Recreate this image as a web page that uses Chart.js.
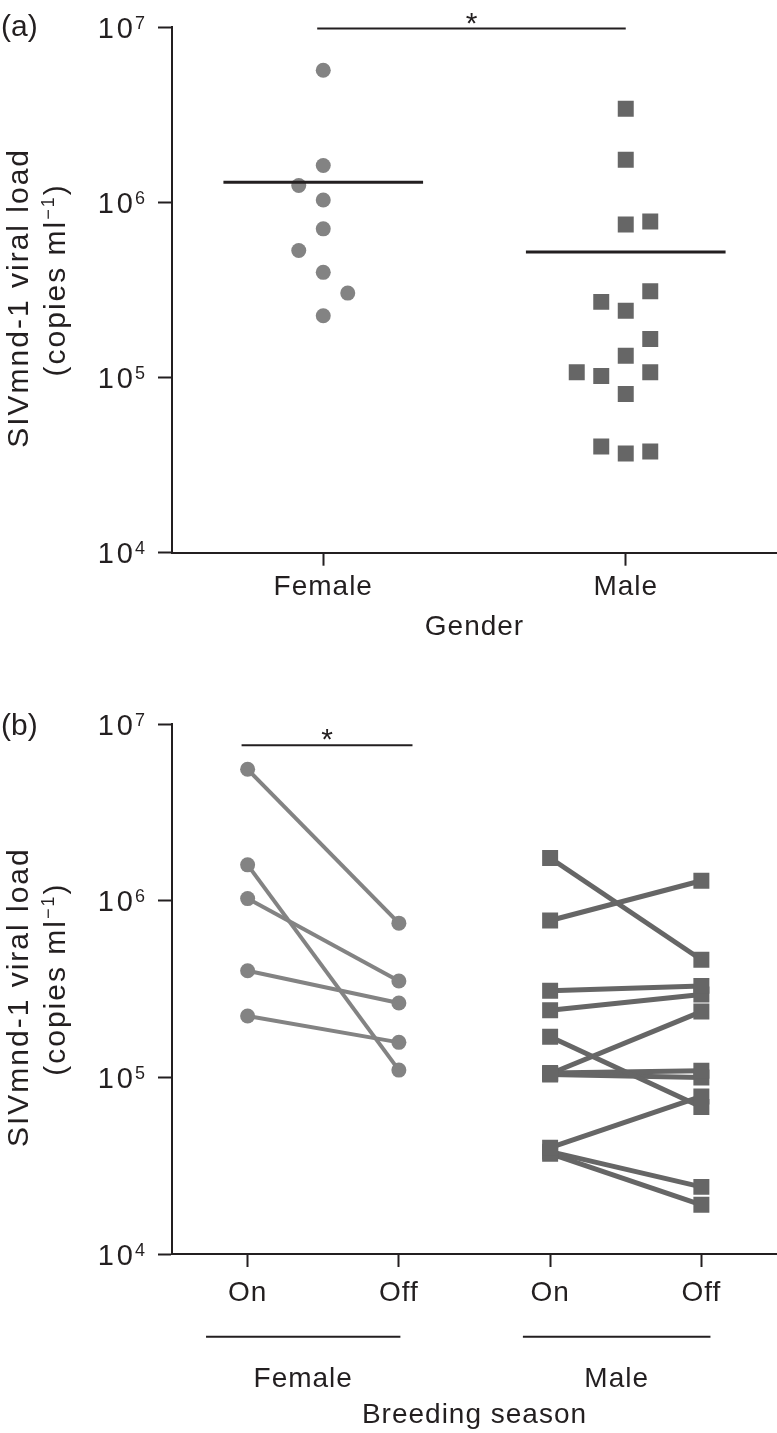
<!DOCTYPE html>
<html>
<head>
<meta charset="utf-8">
<script src="https://cdn.jsdelivr.net/npm/chart.js@4.4.1/dist/chart.umd.min.js"></script>
<style>
  html, body { margin: 0; padding: 0; background: #fff; }
  #wrap { position: relative; width: 777px; height: 1433px; }
  canvas { position: absolute; left: 0; }
</style>
</head>
<body>
<div id="wrap">
  <canvas id="chartA" width="777" height="660" style="top:0"></canvas>
  <canvas id="chartB" width="777" height="773" style="top:660px"></canvas>
</div>
<script>
// axis ticks / labels
const yTicks = [1e4, 1e5, 1e6, 1e7];
const genderLabels = ['Female', 'Male'];
const seasonLabels = ['On', 'Off', 'On', 'Off'];
const groupLabels = ['Female', 'Male'];

// (a) viral load by gender, with horizontal jitter slot of each point
const femaleLoad = [5.66e6, 1.62e6, 1.245e6, 1.03e6, 7.05e5, 5.3e5, 3.98e5, 3.03e5, 2.25e5];
const femaleSlot = [0, 0, -1, 0, 0, -1, 0, 1, 0];
const maleLoad = [3.42e6, 1.75e6, 7.46e5, 7.76e5, 3.1e5, 2.7e5, 2.4e5, 1.66e5, 1.33e5,
                  1.07e5, 1.02e5, 1.07e5, 8.04e4, 4.04e4, 3.68e4, 3.78e4];
const maleSlot = [0, 0, 0, 1, 1, -1, 0, 1, 0, -2, -1, 1, 0, -1, 0, 1];
const genderMeans = [1.3e6, 5.2e5];
const sigBarA = [0.98, 2.0];
const sigLevelA = 9.8e6;

// (b) paired on / off breeding season
const femaleOn  = [5.56e6, 1.6e6, 1.03e6, 4.02e5, 2.23e5];
const femaleOff = [7.48e5, 1.1e5, 3.52e5, 2.64e5, 1.58e5];
const maleOn  = [1.75e6, 7.74e5, 3.1e5, 2.4e5, 1.7e5, 1.06e5, 1.04e5, 1.05e5, 4.0e4, 3.8e4, 3.7e4];
const maleOff = [4.64e5, 1.3e6, 3.3e5, 2.95e5, 6.8e4, 1.09e5, 1.0e5, 2.36e5, 7.8e4, 2.4e4, 1.9e4];
const sigBarB = [0.96, 2.09];
const sigLevelB = 7.6e6;

const FONT = "'Liberation Sans', Arial, sans-serif";
const INK = '#231f20';
const FEMALE_GREY = '#838383';
const MALE_GREY = '#666666';
const JITTER = 0.081;
const MEAN_HALF = 0.33;

Chart.defaults.font.family = FONT;
Chart.defaults.color = INK;

// draws panel tag, 10^n tick labels, two-line y title, asterisk and group brackets
function decor(tag, tagBaseline, sig, groups) {
  return {
    id: 'decor',
    beforeDraw(chart) { chart.ctx.letterSpacing = '1px'; },
    afterDraw(chart) {
      const ctx = chart.ctx;
      const x = chart.scales.x, y = chart.scales.y;
      ctx.save();
      ctx.fillStyle = INK;
      ctx.textBaseline = 'alphabetic';

      ctx.letterSpacing = '0px';
      ctx.font = '30px ' + FONT;
      ctx.textAlign = 'left';
      ctx.fillText(tag, 1, tagBaseline);

      y.ticks.forEach(t => {
        const py = y.getPixelForValue(t.value);
        ctx.letterSpacing = '3px';
        ctx.font = '29px ' + FONT;
        ctx.textAlign = 'right';
        ctx.fillText('10', 136, py + 10.5);
        ctx.letterSpacing = '0px';
        ctx.font = '18px ' + FONT;
        ctx.textAlign = 'left';
        ctx.fillText(String(Math.round(Math.log10(t.value))), 135, py + 1.5);
      });

      const mid = (y.top + y.bottom) / 2;
      ctx.letterSpacing = '2px';
      ctx.save();
      ctx.translate(27.5, mid + 8);
      ctx.rotate(-Math.PI / 2);
      ctx.font = '30px ' + FONT;
      ctx.textAlign = 'center';
      ctx.fillText('SIVmnd-1 viral load', 0, 0);
      ctx.restore();

      ctx.save();
      ctx.translate(65, mid - 10);
      ctx.rotate(-Math.PI / 2);
      ctx.textAlign = 'left';
      ctx.font = '30px ' + FONT;
      const p1 = '(copies ml', p3 = ')';
      const w1 = ctx.measureText(p1).width, w3 = ctx.measureText(p3).width;
      ctx.font = '18px ' + FONT;
      const w2 = ctx.measureText('\u22121').width;
      let cx = -(w1 + w2 + w3) / 2;
      ctx.font = '30px ' + FONT;
      ctx.fillText(p1, cx, 0);
      ctx.font = '18px ' + FONT;
      ctx.fillText('\u22121', cx + w1, -11);
      ctx.font = '30px ' + FONT;
      ctx.fillText(p3, cx + w1 + w2, 0);
      ctx.restore();

      ctx.letterSpacing = '0px';
      ctx.font = '30px ' + FONT;
      ctx.textAlign = 'center';
      ctx.fillText('*', x.getPixelForValue((sig[0] + sig[1]) / 2), y.getPixelForValue(sig[2]) + 4);

      if (groups) {
        ctx.strokeStyle = INK;
        ctx.lineWidth = 2;
        ctx.letterSpacing = '1px';
        ctx.font = '28px ' + FONT;
        groups.forEach(g => {
          const x1 = x.getPixelForValue(g.from), x2 = x.getPixelForValue(g.to);
          ctx.beginPath();
          ctx.moveTo(x1, x.top + 82.7);
          ctx.lineTo(x2, x.top + 82.7);
          ctx.stroke();
          ctx.fillText(g.label, (x1 + x2) / 2, x.top + 132.7);
        });
      }
      ctx.restore();
    }
  };
}

function yScale() {
  return {
    type: 'logarithmic',
    min: 1e4,
    max: 1e7,
    afterBuildTicks: s => { s.ticks = yTicks.map(v => ({ value: v })); },
    afterFit: s => { s.width = 14; },
    ticks: { display: false },
    grid: { drawOnChartArea: false, tickLength: 14, tickWidth: 2, tickColor: INK },
    border: { color: INK, width: 2 }
  };
}

function xScale(max, labels, height, padding, title) {
  return {
    type: 'linear',
    min: 0.5,
    max: max,
    afterBuildTicks: s => { s.ticks = labels.map((l, i) => ({ value: i + 1 })); },
    afterFit: s => { s.height = height; },
    ticks: {
      callback: (v, i) => labels[i],
      font: { size: 28 },
      color: INK,
      padding: padding,
      autoSkip: false,
      maxRotation: 0
    },
    grid: { drawOnChartArea: false, tickLength: 13, tickWidth: 2, tickColor: INK },
    border: { color: INK, width: 2 },
    title: { display: true, text: title, font: { size: 28 }, color: INK, padding: { top: 0, bottom: 0 } }
  };
}

function line(points, color, width) {
  return {
    data: points,
    showLine: true,
    borderColor: color,
    borderWidth: width,
    pointRadius: 0,
    tension: 0
  };
}

// ---- panel (a)
new Chart(document.getElementById('chartA'), {
  type: 'scatter',
  data: {
    datasets: [
      line([{ x: 1 - MEAN_HALF, y: genderMeans[0] }, { x: 1 + MEAN_HALF, y: genderMeans[0] }], INK, 3),
      line([{ x: 2 - MEAN_HALF, y: genderMeans[1] }, { x: 2 + MEAN_HALF, y: genderMeans[1] }], INK, 3),
      line([{ x: sigBarA[0], y: sigLevelA }, { x: sigBarA[1], y: sigLevelA }], INK, 2),
      {
        data: femaleLoad.map((v, i) => ({ x: 1 + femaleSlot[i] * JITTER, y: v })),
        pointStyle: 'circle',
        pointRadius: 7.5,
        pointBackgroundColor: FEMALE_GREY,
        pointBorderWidth: 0
      },
      {
        data: maleLoad.map((v, i) => ({ x: 2 + maleSlot[i] * JITTER, y: v })),
        pointStyle: 'rect',
        pointRadius: 11.3,
        pointBackgroundColor: MALE_GREY,
        pointBorderWidth: 0
      }
    ]
  },
  options: {
    responsive: false,
    animation: false,
    events: [],
    layout: { autoPadding: false, padding: { left: 158, top: 27, right: 0, bottom: 16 } },
    plugins: { legend: { display: false }, tooltip: { enabled: false } },
    scales: {
      x: xScale(2.5, genderLabels, 91.3, 5, 'Gender'),
      y: yScale()
    }
  },
  plugins: [decor('(a)', 36, [sigBarA[0], sigBarA[1], sigLevelA], null)]
});

// ---- panel (b)
const pairs = [];
femaleOn.forEach((v, i) => {
  pairs.push(Object.assign(line([{ x: 1, y: v }, { x: 2, y: femaleOff[i] }], FEMALE_GREY, 4), {
    pointStyle: 'circle', pointRadius: 7.5, pointBackgroundColor: FEMALE_GREY, pointBorderWidth: 0
  }));
});
maleOn.forEach((v, i) => {
  pairs.push(Object.assign(line([{ x: 3, y: v }, { x: 4, y: maleOff[i] }], MALE_GREY, 5), {
    pointStyle: 'rect', pointRadius: 11.3, pointBackgroundColor: MALE_GREY, pointBorderWidth: 0
  }));
});

new Chart(document.getElementById('chartB'), {
  type: 'scatter',
  data: {
    datasets: [line([{ x: sigBarB[0], y: sigLevelB }, { x: sigBarB[1], y: sigLevelB }], INK, 2)].concat(pairs)
  },
  options: {
    responsive: false,
    animation: false,
    events: [],
    layout: { autoPadding: false, padding: { left: 158, top: 64.3, right: 0, bottom: 1 } },
    plugins: { legend: { display: false }, tooltip: { enabled: false } },
    scales: {
      x: xScale(4.5, seasonLabels, 178, 9.5, 'Breeding season'),
      y: yScale()
    }
  },
  plugins: [decor('(b)', 75, [sigBarB[0], sigBarB[1], sigLevelB], [
    { label: groupLabels[0], from: 0.725, to: 2.01 },
    { label: groupLabels[1], from: 2.82, to: 4.06 }
  ])]
});
</script>
</body>
</html>
